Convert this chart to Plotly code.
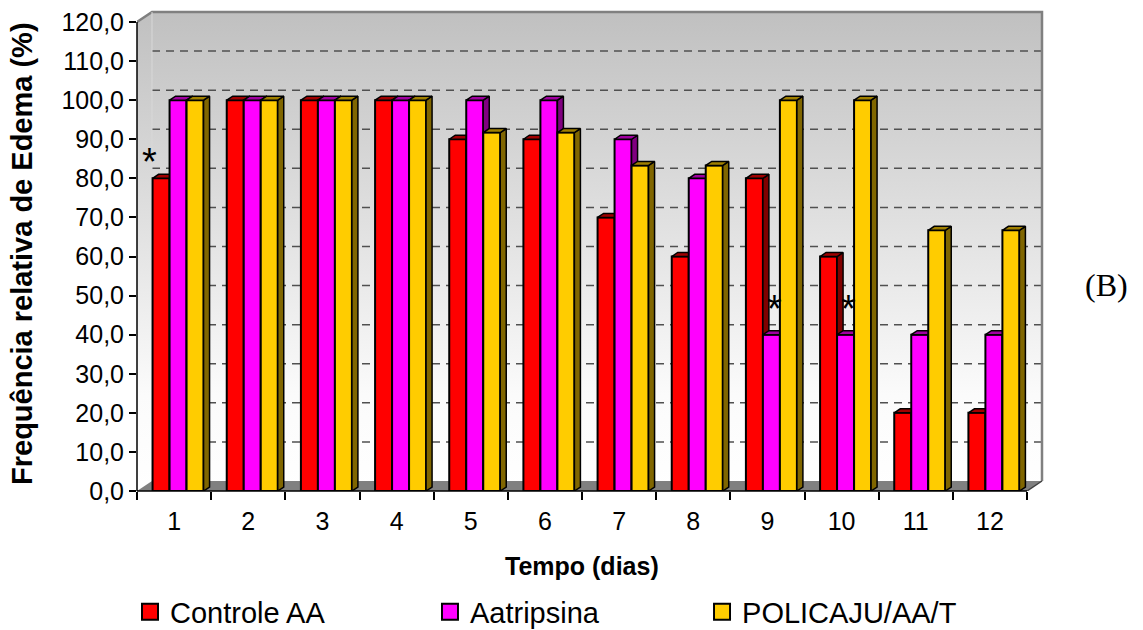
import plotly.graph_objects as go

# ---- data -------------------------------------------------------------
days = list(range(1, 13))
day_labels = [str(d) for d in days]
controle_aa = [80, 100, 100, 100, 90, 90, 70, 60, 80, 60, 20, 20]
aatripsina = [100, 100, 100, 100, 100, 100, 90, 80, 40, 40, 40, 40]
policaju = [100, 100, 100, 100, 91.7, 91.7, 83.3, 83.3, 100, 100, 66.7, 66.7]
series_names = ["Controle AA", "Aatripsina", "POLICAJU/AA/T"]
y_ticks = list(range(0, 121, 10))
y_tick_labels = [f"{v},0" for v in y_ticks]
# (day, series index) pairs flagged with an asterisk
flagged = [(1, 0), (9, 1), (10, 1)]

# ---- geometry / style -------------------------------------------------
W, H = 1143, 630
ML, MR, MT, MB = 137, 97, 10, 139
PW, PH = W - ML - MR, H - MT - MB
PX_X = 74.1667          # pixels per day
PX_Y = 3.9083           # pixels per percentage point
X_RANGE = [0.5, 0.5 + PW / PX_X]
Y_RANGE = [0, PH / PX_Y]
WX, WY = 15 / PX_X, 10 / PX_Y      # depth of the back wall
DX, DY = 6 / PX_X, 4 / PX_Y        # depth of each column
BAR_W = 0.2292
OFF0 = -0.290
FONT = "Liberation Sans, Arial, sans-serif"


def px_to_paper(px, py):
    return (px - ML) / PW, (H - MB - py) / PH


front = ["#FF0000", "#FF00FF", "#FFCC00"]
side = ["#800000", "#800080", "#806600"]
top = ["#A00000", "#A000A0", "#A08000"]
values = [controle_aa, aatripsina, policaju]

fig = go.Figure()

wall_grad = dict(type="vertical", start=0, stop=120 + WY,
                 colorscale=[[0, "#ffffff"], [0.2, "#fbfbfb"], [1, "#c0c0c0"]])

# back wall
fig.add_trace(go.Scatter(
    x=[0.5 + WX, 12.5 + WX, 12.5 + WX, 0.5 + WX, 0.5 + WX],
    y=[WY, WY, 120 + WY, 120 + WY, WY],
    mode="lines", line=dict(width=0), fill="toself", fillgradient=wall_grad,
    hoverinfo="skip", showlegend=False))
# left side wall
fig.add_trace(go.Scatter(
    x=[0.5, 0.5 + WX, 0.5 + WX, 0.5, 0.5],
    y=[0, WY, 120 + WY, 120, 0],
    mode="lines", line=dict(width=0), fill="toself", fillgradient=wall_grad,
    hoverinfo="skip", showlegend=False))
# floor
fig.add_trace(go.Scatter(
    x=[0.5, 12.5, 12.5 + WX, 0.5 + WX, 0.5],
    y=[0, 0, WY, WY, 0],
    mode="lines", line=dict(width=0), fill="toself", fillcolor="#808080",
    hoverinfo="skip", showlegend=False))
# dashed gridlines on the back wall
gx, gy = [], []
for v in y_ticks[1:-1]:
    gx += [0.5 + WX, 12.5 + WX, None]
    gy += [v + WY, v + WY, None]
fig.add_trace(go.Scatter(
    x=gx, y=gy, mode="lines",
    line=dict(color="#505050", width=1.5, dash="8px,6px"),
    hoverinfo="skip", showlegend=False))
# wall edges
fig.add_trace(go.Scatter(
    x=[0.5, 0.5 + WX, 12.5 + WX, 12.5 + WX],
    y=[120, 120 + WY, 120 + WY, WY],
    mode="lines", line=dict(color="#808080", width=2.5),
    hoverinfo="skip", showlegend=False))
fig.add_trace(go.Scatter(
    x=[0.5 + WX, 0.5 + WX], y=[WY, 120 + WY], mode="lines",
    line=dict(color="#d8d8d8", width=1), hoverinfo="skip", showlegend=False))
fig.add_trace(go.Scatter(
    x=[12.5, 12.5 + WX], y=[0, WY], mode="lines",
    line=dict(color="#404040", width=1.5), hoverinfo="skip", showlegend=False))

# columns: one overlaid subplot per series so each series covers the previous
for i, (name, vals) in enumerate(zip(series_names, values)):
    xa, ya = f"x{i + 2}", f"y{i + 2}"
    off = OFF0 + i * BAR_W
    fig.add_trace(go.Bar(
        x=days, y=vals, width=BAR_W, offset=off,
        marker=dict(color=front[i], line=dict(color="black", width=2)),
        xaxis=xa, yaxis=ya, showlegend=False, name=name))
    sx, sy, tx, ty = [], [], [], []
    for d, v in zip(days, vals):
        xl = d + off
        xr = xl + BAR_W
        sx += [xr, xr + DX, xr + DX, xr, xr, None]
        sy += [0, DY, v + DY, v, 0, None]
        tx += [xl, xr, xr + DX, xl + DX, xl, None]
        ty += [v, v, v + DY, v + DY, v, None]
    fig.add_trace(go.Scatter(
        x=sx, y=sy, mode="lines", fill="toself", fillcolor=side[i],
        line=dict(color="black", width=1.5), xaxis=xa, yaxis=ya,
        hoverinfo="skip", showlegend=False))
    fig.add_trace(go.Scatter(
        x=tx, y=ty, mode="lines", fill="toself", fillcolor=top[i],
        line=dict(color="black", width=1.5), xaxis=xa, yaxis=ya,
        hoverinfo="skip", showlegend=False))

# legend entries (one legend per series, laid out along the bottom)
legend_x = [-0.0077, 0.3223, 0.6216]
for i, name in enumerate(series_names):
    lg = "legend" if i == 0 else f"legend{i + 1}"
    fig.add_trace(go.Scatter(
        x=[None], y=[None], mode="markers", name=name, legend=lg,
        marker=dict(symbol="square", size=16, color=front[i],
                    line=dict(color="black", width=2))))

legend_common = dict(y=-0.2516, yanchor="middle", xanchor="left",
                     bgcolor="rgba(0,0,0,0)", borderwidth=0,
                     font=dict(family=FONT, size=29, color="black"))

axis_hidden = dict(visible=False, fixedrange=True)
layout_axes = {}
for i in range(3):
    layout_axes[f"xaxis{i + 2}"] = dict(range=X_RANGE, overlaying="x", **axis_hidden)
    layout_axes[f"yaxis{i + 2}"] = dict(range=Y_RANGE, overlaying="y", **axis_hidden)

ytx, yty = px_to_paper(22, 254)
xtx, xty = px_to_paper(582, 566)
bx, by = px_to_paper(1106, 285)
annotations = [
    dict(text="<b>Frequência relativa de Edema (%)</b>", textangle=-90,
         xref="paper", yref="paper", x=ytx, y=yty, xanchor="center",
         yanchor="middle", showarrow=False,
         font=dict(family=FONT, size=29, color="black")),
    dict(text="<b>Tempo (dias)</b>", xref="paper", yref="paper",
         x=xtx, y=xty, xanchor="center", yanchor="middle", showarrow=False,
         font=dict(family=FONT, size=25, color="black")),
    dict(text="(B)", xref="paper", yref="paper", x=bx, y=by,
         xanchor="center", yanchor="middle", showarrow=False,
         font=dict(family="Liberation Serif, Times New Roman, serif", size=32,
                   color="black")),
]
star_shift = {0: (-12, 16), 1: (3, 26)}
for d, s in flagged:
    v = values[s][days.index(d)]
    xs, ys = star_shift[s]
    annotations.append(dict(
        text="*", x=d + OFF0 + s * BAR_W + BAR_W / 2, y=v, xref="x", yref="y",
        xanchor="center", yanchor="middle", xshift=xs, yshift=ys,
        showarrow=False, font=dict(family=FONT, size=38, color="black")))

fig.update_layout(
    width=W, height=H, autosize=False,
    margin=dict(l=ML, r=MR, t=MT, b=MB, pad=0, autoexpand=False),
    paper_bgcolor="white", plot_bgcolor="rgba(0,0,0,0)",
    xaxis=dict(range=X_RANGE, tickvals=days, ticktext=day_labels,
               ticks="outside", ticklen=8, tickcolor="rgba(0,0,0,0)",
               minor=dict(tickvals=[d - 0.5 for d in days] + [12.5],
                          ticks="outside", ticklen=8, tickcolor="black",
                          tickwidth=1.5, showgrid=False),
               showgrid=False, zeroline=False, showline=False, fixedrange=True,
               ticklabelstandoff=0,
               tickfont=dict(family=FONT, size=25, color="black")),
    yaxis=dict(range=Y_RANGE, tickvals=y_ticks, ticktext=y_tick_labels,
               ticks="outside", ticklen=7, tickcolor="black", tickwidth=1.5,
               showgrid=False, zeroline=False, showline=False, fixedrange=True,
               tickfont=dict(family=FONT, size=25, color="black")),
    legend=dict(x=legend_x[0], **legend_common),
    legend2=dict(x=legend_x[1], **legend_common),
    legend3=dict(x=legend_x[2], **legend_common),
    annotations=annotations,
    shapes=[
        dict(type="line", xref="paper", yref="y", x0=0, x1=0, y0=0, y1=120,
             line=dict(color="black", width=1.5)),
        dict(type="line", xref="x", yref="paper", x0=0.5, x1=12.5, y0=0, y1=0,
             line=dict(color="black", width=1.5)),
    ],
    **layout_axes,
)

fig.write_html("out.html")
